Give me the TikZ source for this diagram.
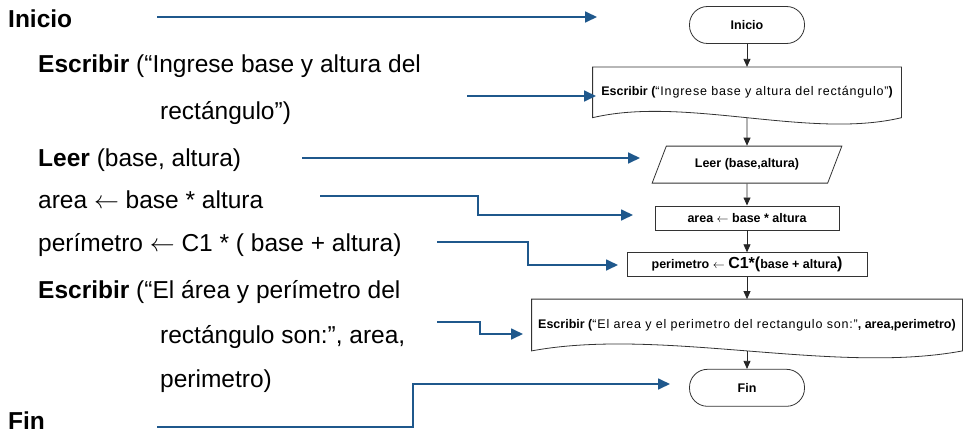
\documentclass[tikz,border=0pt]{standalone}
\usepackage{fontspec}
\setmainfont{Liberation Sans}
\usetikzlibrary{shapes.geometric,arrows.meta,positioning}
\definecolor{flowblue}{RGB}{31,88,140}
\newcommand{\spaced}[1]{{\mdseries\addfontfeatures{LetterSpace=6.5}#1}}

\begin{document}
\begin{tikzpicture}[
    x=1pt, y=-1pt,
    node distance=22pt,
    code/.style={anchor=base west, inner sep=0pt, font=\fontsize{24.5}{28}\selectfont},
    chart/.style={draw=black!80, line width=0.8pt, font=\bfseries\fontsize{12.5}{15}\selectfont},
    terminal/.style={chart, rectangle, rounded corners=18pt, minimum width=115pt, minimum height=37pt},
    process/.style={chart, rectangle, minimum height=24pt},
    io/.style={chart, trapezium, trapezium left angle=62, trapezium right angle=118, trapezium stretches=true, minimum width=190pt, minimum height=37pt},
    doc/.style={chart, draw=none, rectangle, inner sep=2pt, minimum height=50pt},
    flow/.style={-{Triangle[length=8pt,width=7pt]}, draw=black!85, line width=0.8pt},
    link/.style={-{Triangle[length=12pt,width=11pt]}, draw=flowblue, line width=1.7pt}
]
\useasboundingbox (0,0) rectangle (963,436);

\node[code] (lInicio) at (8,28) {\textbf{Inicio}};
\node[code] (lEscribir) at (38,73) {\textbf{Escribir} (“Ingrese base y altura del};
\node[code] (lEscribirB) at (160,119) {rectángulo”)};
\node[code] (lLeer) at (38,166) {\textbf{Leer} (base, altura)};
\node[code] (lArea) at (38,208) {area $\leftarrow$ base * altura};
\node[code] (lPerimetro) at (38,251) {perímetro $\leftarrow$ C1 * ( base + altura)};
\node[code] (lEscribir2) at (38,298) {\textbf{Escribir} (“El área y perímetro del};
\node[code] (lEscribir2B) at (160,343) {rectángulo son:”, area,};
\node[code] (lEscribir2C) at (160,387) {perimetro)};
\node[code] (lFin) at (8,429) {\textbf{Fin}};

\node[terminal] (inicio) at (747,25) {Inicio};
\node[doc, minimum width=308pt, below=23pt of inicio] (escribir1) {Escribir (\spaced{“Ingrese base y altura del rectángulo”})};
\node[io, below=28pt of escribir1] (leer) {Leer (base,altura)};
\node[process, minimum width=184pt, below=of leer] (area) {area $\leftarrow$ base * altura};
\node[process, minimum width=240pt, below=of area] (perimetro) {perimetro $\leftarrow$ {\fontsize{16}{18}\selectfont C1*(}base + altura{\fontsize{16}{18}\selectfont )}};
\node[doc, minimum width=430pt, minimum height=51pt, below=of perimetro] (escribir2) {Escribir (\spaced{“El area y el perimetro del rectangulo son:”}, area,perimetro)};
\node[terminal, below=18pt of escribir2] (fin) {Fin};

\draw[chart] (escribir1.north west) -- (escribir1.south west) .. controls +(92,-22) and +(-92,22) .. (escribir1.south east) -- (escribir1.north east) -- cycle;
\draw[chart] (escribir2.north west) -- (escribir2.south west) .. controls +(129,-24) and +(-129,24) .. (escribir2.south east) -- (escribir2.north east) -- cycle;

\draw[flow] (inicio) -- (escribir1);
\draw[flow] (escribir1) -- (leer);
\draw[flow] (leer) -- (area);
\draw[flow] (area) -- (perimetro);
\draw[flow] (perimetro) -- (escribir2);
\draw[flow] (escribir2) -- (fin);

\coordinate (a1s) at (157,17);
\coordinate (a1e) at (597,17);
\coordinate (a2s) at (467,96);
\coordinate (a2e) at (596,96);
\coordinate (a3s) at (302,158);
\coordinate (a3e) at (640,158);
\coordinate (a4s) at (320,196);
\coordinate (a4k) at (478,196);
\coordinate (a4e) at (633,215);
\coordinate (a5s) at (437,242);
\coordinate (a5k) at (528,242);
\coordinate (a5e) at (618,265);
\coordinate (a6s) at (437,322);
\coordinate (a6k) at (480,322);
\coordinate (a6e) at (523,334);
\coordinate (a7s) at (157,427);
\coordinate (a7k) at (413,427);
\coordinate (a7e) at (670,384);

\draw[link] (a1s) -- (a1e);
\draw[link] (a2s) -- (a2e);
\draw[link] (a3s) -- (a3e);
\draw[link] (a4s) -- (a4k) |- (a4e);
\draw[link] (a5s) -- (a5k) |- (a5e);
\draw[link] (a6s) -- (a6k) |- (a6e);
\draw[link] (a7s) -- (a7k) |- (a7e);

\end{tikzpicture}
\end{document}
